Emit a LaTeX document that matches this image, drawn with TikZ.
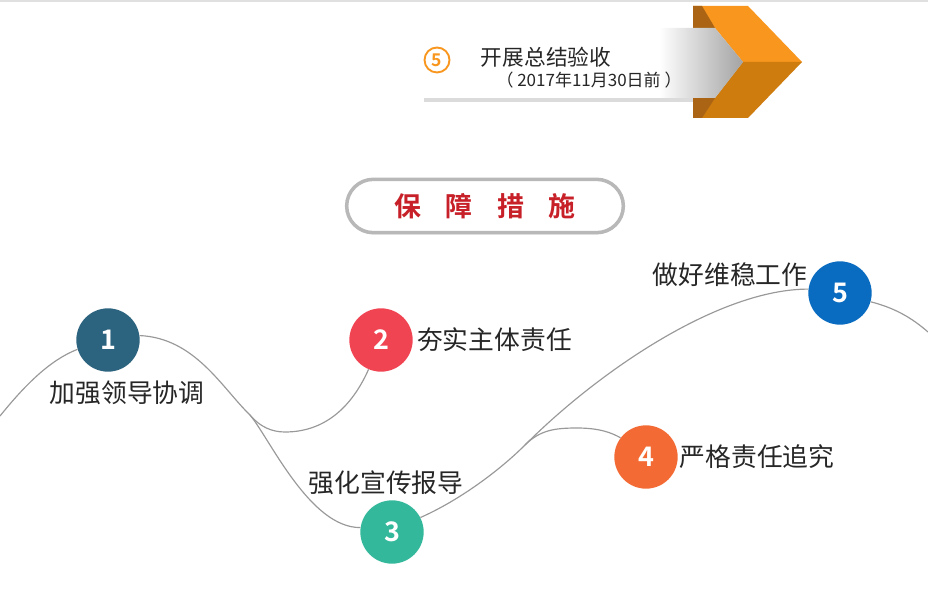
\documentclass[tikz,border=0pt]{standalone}
\usepackage{fontspec}
\setmainfont{Noto Sans CJK SC}[BoldFont={Noto Sans CJK SC Bold}]
\usetikzlibrary{positioning, shadows}
\definecolor{stepteal}{RGB}{44, 99, 127}
\definecolor{stepred}{RGB}{241, 68, 83}
\definecolor{stepgreen}{RGB}{51, 184, 155}
\definecolor{steporange}{RGB}{243, 106, 52}
\definecolor{stepblue}{RGB}{10, 108, 192}
\definecolor{bandorange}{RGB}{248, 150, 30}
\definecolor{banddark}{RGB}{206, 124, 14}
\definecolor{bandfold}{RGB}{170, 100, 20}
\definecolor{titlered}{RGB}{200, 32, 40}
\pgfdeclarehorizontalshading{bannershade}{100bp}{color(0bp)=(white); color(25bp)=(white); color(62bp)=(white); color(75bp)=(black!36); color(100bp)=(black!36)}

\begin{document}
\begin{tikzpicture}[x=0.03cm, y=-0.03cm,
  dot/.style={circle, minimum size=1.9cm, inner sep=0pt, text=white, font=\fontsize{23}{26}\selectfont\bfseries},
  lbl/.style={font=\fontsize{22}{26}\selectfont, text=black!85, inner sep=0pt},
  wave/.style={draw=black!40, line width=1pt},
  pill/.style={draw=black!28, line width=3pt, fill=white, rounded corners=0.8cm, minimum width=8.3cm, minimum height=1.6cm,
    drop shadow={opacity=0.25, shadow xshift=0pt, shadow yshift=-1.5pt}}
]
  \useasboundingbox (0,0) rectangle (928,599);
  \draw[black!12, line width=2pt] (0,1) -- (928,1);

  % banner at the top
  \fill[black!14] (424,33) -- (718,33) -- (746,66) -- (718,102) -- (424,102) -- cycle;
  \fill[bandorange] (693,6) -- (748,6) -- (802,62) -- (743,62) -- (715,28) -- (693,28) -- cycle;
  \fill[banddark] (743,62) -- (802,62) -- (748,118) -- (693,118) -- (693,98) -- (715,98) -- cycle;
  \fill[bandfold] (693,6) -- (702,6) -- (715,28) -- (693,28) -- cycle;
  \fill[bandfold] (693,98) -- (715,98) -- (702,118) -- (693,118) -- cycle;
  \shade[shading=bannershade] (420,28) -- (715,28) -- (743,62) -- (715,98) -- (420,98) -- cycle;

  \node[circle, draw=bandorange, line width=1.6pt, minimum size=0.75cm, inner sep=0pt, text=bandorange, font=\fontsize{15}{16}\selectfont\bfseries] (five) at (437,60) {5};
  \node[font=\fontsize{18.5}{20}\selectfont, text=black!85, inner sep=0pt] (final) at (546,57) {开展总结验收};
  \node[font=\fontsize{14.5}{16}\selectfont, text=black!85, inner sep=0pt] (date) at (589,80) {（ 2017年11月30日前 ）};

  \node[pill, font=\fontsize{23}{26}\selectfont\bfseries, text=titlered] (title) at (485,206) {保\hspace{0.9em}障\hspace{0.9em}措\hspace{0.9em}施};

  \node[dot, fill=stepteal] (c1) at (108,340) {1};
  \node[dot, fill=stepred] (c2) at (381,340) {2};
  \node[dot, fill=stepgreen] (c3) at (392,532) {3};
  \node[dot, fill=steporange] (c4) at (646,457) {4};
  \node[dot, fill=stepblue] (c5) at (840,293) {5};

  \node[lbl] (t1) at (127,393) {加强领导协调};
  \node[lbl, right=0.12cm of c2] (t2) {夯实主体责任};
  \node[lbl] (t3) at (386,483) {强化宣传报导};
  \node[lbl, right=0.05cm of c4] (t4) {严格责任追究};
  \node[lbl] (t5) at (730,275) {做好维稳工作};

  \coordinate (lend) at (0,416);
  \coordinate (rend) at (928,332);
  \coordinate (fork1) at (250,415);
  \coordinate (dip) at (285,432);
  \coordinate (fork2) at (525,445);
  \coordinate (hump) at (577,428);

  \draw[wave] (lend) .. controls (25,385) and (50,360) .. (c1.197);
  \draw[wave] (c1.8) .. controls (195,338) and (222,388) .. (fork1);
  \draw[wave] (fork1) .. controls (270,439) and (310,528) .. (c3.172);
  \draw[wave] (fork1) .. controls (260,427) and (272,432) .. (dip) .. controls (330,432) and (355,400) .. (c2.247);
  \draw[wave] (c3.27) .. controls (460,500) and (500,470) .. (fork2);
  \draw[wave] (fork2) .. controls (600,370) and (720,289) .. (c5.173);
  \draw[wave] (fork2) .. controls (540,430) and (555,428) .. (hump) .. controls (600,428) and (612,433) .. (c4.143);
  \draw[wave] (c5.344) .. controls (895,308) and (912,318) .. (rend);
\end{tikzpicture}
\end{document}
